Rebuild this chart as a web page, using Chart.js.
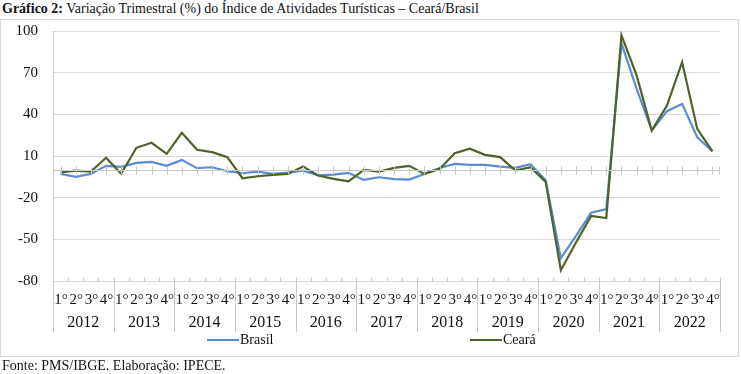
<!DOCTYPE html>
<html lang="pt-BR">
<head>
<meta charset="utf-8">
<title>Gráfico 2</title>
<script src="https://cdn.jsdelivr.net/npm/chart.js@4.4.0/dist/chart.umd.min.js"></script>
<style>
  html, body { margin:0; padding:0; background:#fff; }
  body { width:741px; height:374px; position:relative; overflow:hidden;
         font-family:'Liberation Serif','Tinos','DejaVu Serif',serif; color:#111; }
  .title  { position:absolute; left:2px; top:1px; font-size:14px; white-space:nowrap; }
  .frame  { position:absolute; left:0; top:19px; width:739px; height:338px;
            border:1px solid #d9d9d9; box-sizing:border-box; }
  .source { position:absolute; left:2px; top:358px; font-size:14px; white-space:nowrap; }
  #chart  { position:absolute; left:0; top:0; }
</style>
</head>
<body>
<div class="title"><b>Gráfico 2:</b> Variação Trimestral (%) do Índice de Atividades Turísticas – Ceará/Brasil</div>
<div class="frame"></div>
<canvas id="chart" width="741" height="374"></canvas>
<div class="source">Fonte: PMS/IBGE. Elaboração: IPECE.</div>

<script>
/* ── Data ─────────────────────────────────────────────────────── */
const YEARS    = ['2012','2013','2014','2015','2016','2017','2018','2019','2020','2021','2022'];
const QUARTERS = ['1°','2°','3°','4°'];

// variação trimestral (%), 1° ao 4° trimestre de cada ano
const BRASIL = [
  -2.9,  -5.0,  -2.9,   2.9,
   2.2,   5.0,   5.8,   2.9,
   7.2,   1.2,   1.9,  -1.0,
  -2.4,  -1.2,  -2.9,  -1.9,
  -0.5,  -3.9,  -3.4,  -2.2,
  -7.2,  -5.3,  -6.7,  -7.0,
  -2.9,   1.4,   4.3,   3.6,
   3.6,   2.4,   1.5,   4.1,
  -7.5, -63.6, -47.5, -30.9,
 -28.2,  91.3,  58.4,  28.3,
  42.3,  47.5,  23.5,  13.4,
];
const CEARA = [
  -1.8,  -0.5,  -1.2,   8.7,
  -2.8,  15.9,  19.5,  11.6,
  26.7,  14.5,  12.8,   9.2,
  -6.0,  -4.6,  -3.6,  -2.9,
   2.4,  -4.1,  -6.5,  -8.2,
   0.0,  -1.2,   1.4,   2.9,
  -2.9,   0.7,  12.0,  15.2,
  10.8,   9.2,  -0.5,   1.9,
  -8.6, -72.3, -52.3, -33.1,
 -34.7,  96.9,  68.0,  28.3,
  46.3,  77.6,  29.5,  13.4,
];

const Y_MIN = -80, Y_MAX = 100, Y_STEP = 30;

/* ── Styles ───────────────────────────────────────────────────── */
const COLORS = {
  brasil: '#5b8bd4',
  ceara:  '#4f6228',
  grid:   '#d9d9d9',
  text:   '#111111',
};
const SERIF = "'Liberation Serif','Tinos','DejaVu Serif',serif";

const labels = [];
YEARS.forEach(y => QUARTERS.forEach(q => labels.push(q + ' ' + y)));

/* ── Axis / legend decorations (Excel-like) ───────────────────── */
const excelAxis = {
  id: 'excelAxis',
  afterDraw(chart) {
    const { ctx, chartArea: a, scales: { x, y } } = chart;
    const n = labels.length;
    const step = (a.right - a.left) / n;
    const y0 = Math.round(y.getPixelForValue(0)) + 0.5;
    const yb = Math.round(a.bottom) + 0.5;
    const lblBottom = 332;

    ctx.save();
    ctx.strokeStyle = '#c8c8c8';
    ctx.lineWidth = 1;
    ctx.beginPath();
    // zero line with ticks on categories
    ctx.moveTo(a.left, y0); ctx.lineTo(a.right, y0);
    for (let i = 0; i < n; i++) {
      const px = Math.round(x.getPixelForValue(i)) + 0.5;
      ctx.moveTo(px, y0 - 4); ctx.lineTo(px, y0 + 4);
    }
    ctx.moveTo(a.right - 0.5, y0 - 4); ctx.lineTo(a.right - 0.5, y0 + 4);
    // bottom ticks on category boundaries
    for (let i = 0; i <= n; i++) {
      const px = Math.round(a.left + i * step) + 0.5;
      ctx.moveTo(px, yb - 4); ctx.lineTo(px, yb);
    }
    // left axis line
    const lx = Math.round(a.left) + 0.5;
    ctx.moveTo(lx, a.top); ctx.lineTo(lx, lblBottom);
    // year separators
    for (let k = 1; k <= YEARS.length; k++) {
      const px = Math.round(a.left + k * 4 * step) + 0.5;
      ctx.moveTo(px, yb); ctx.lineTo(px, lblBottom);
    }
    ctx.stroke();

    // quarter + year labels
    ctx.fillStyle = COLORS.text;
    ctx.textAlign = 'center';
    ctx.textBaseline = 'middle';
    ctx.font = '15px ' + SERIF;
    for (let i = 0; i < n; i++) {
      ctx.fillText(QUARTERS[i % 4], x.getPixelForValue(i) + 0.5, 300);
    }
    ctx.font = '16px ' + SERIF;
    YEARS.forEach((yr, k) => {
      ctx.fillText(yr, a.left + (k * 4 + 2) * step, 323);
    });

    // legend
    const items = [
      { text: 'Brasil', color: COLORS.brasil, x: 207 },
      { text: 'Ceará',  color: COLORS.ceara,  x: 470 },
    ];
    ctx.textAlign = 'left';
    ctx.font = '14px ' + SERIF;
    items.forEach(it => {
      ctx.strokeStyle = it.color;
      ctx.lineWidth = 2;
      ctx.beginPath();
      ctx.moveTo(it.x, 340); ctx.lineTo(it.x + 32, 340);
      ctx.stroke();
      ctx.fillText(it.text, it.x + 33, 340);
    });
    ctx.restore();
  }
};

/* ── Chart ────────────────────────────────────────────────────── */
new Chart(document.getElementById('chart'), {
  type: 'line',
  data: {
    labels,
    datasets: [
      { label: 'Brasil', data: BRASIL, borderColor: COLORS.brasil, order: 1 },
      { label: 'Ceará',  data: CEARA,  borderColor: COLORS.ceara,  order: 0 },
    ].map(ds => ({ borderWidth: 2.2, pointRadius: 0, tension: 0, fill: false, ...ds })),
  },
  options: {
    responsive: false,
    animation: false,
    layout: { padding: { left: 0, top: 31, right: 21, bottom: 93 } },
    plugins: { legend: { display: false }, tooltip: { enabled: false } },
    scales: {
      x: { type: 'category', display: false, offset: true },
      y: {
        min: Y_MIN, max: Y_MAX,
        afterFit(s) { s.width = 53; },
        ticks: { stepSize: Y_STEP, padding: 15, color: COLORS.text, font: { family: SERIF, size: 15 } },
        grid: { color: COLORS.grid, drawTicks: false },
        border: { display: false },
      },
    },
  },
  plugins: [excelAxis],
});
</script>
</body>
</html>
